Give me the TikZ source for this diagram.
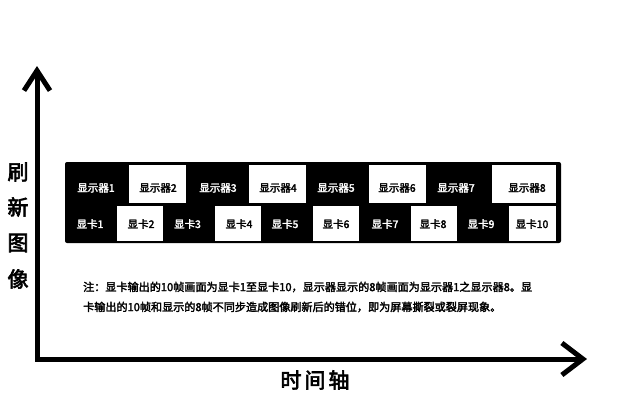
\documentclass[tikz,border=0pt]{standalone}
\usepackage{fontspec}
\newfontfamily\cjk{Noto Sans CJK SC}[FakeBold=2.4]
\newfontfamily\cjkbig{Noto Sans CJK SC}[FakeBold=3]
\usetikzlibrary{arrows.meta}
\tikzset{
  panelbox/.style={fill=black, draw=none, rounded corners=2pt},
  wbox/.style={fill=white, draw=none, inner sep=0pt},
  celltxt/.style={inner sep=0pt, font=\cjk\fontsize{10.5}{12}\selectfont},
  wtxt/.style={celltxt, text=black},
  btxt/.style={celltxt, text=white},
  axislabel/.style={inner sep=0pt, font=\cjkbig\fontsize{21}{24}\selectfont},
  notetxt/.style={inner sep=0pt, anchor=west, font=\cjk\fontsize{11.1}{13}\selectfont},
  axisline/.style={line width=5pt, line join=miter}
}
\begin{document}
\begin{tikzpicture}[x=1pt,y=-1pt]
\useasboundingbox (0,0) rectangle (640,400);
\fill[white] (0,0) rectangle (640,400);
% panel
\node[panelbox, minimum width=496pt, minimum height=81pt, inner sep=0pt] (panel) at (313,202.5) {};
% top row white boxes
\node[wbox, minimum width=57pt, minimum height=38pt] (w2) at (157.5,184) {};
\node[wbox, minimum width=57pt, minimum height=38pt] (w4) at (277.5,184) {};
\node[wbox, minimum width=57pt, minimum height=38pt] (w6) at (397.5,184) {};
\node[wbox, minimum width=64pt, minimum height=38pt] (w8) at (524,184) {};
% bottom row white boxes
\node[wbox, minimum width=46pt, minimum height=35pt] (k2) at (140,223.5) {};
\node[wbox, minimum width=46pt, minimum height=35pt] (k4) at (238,223.5) {};
\node[wbox, minimum width=46pt, minimum height=35pt] (k6) at (336,223.5) {};
\node[wbox, minimum width=46pt, minimum height=35pt] (k8) at (434,223.5) {};
\node[wbox, minimum width=47pt, minimum height=35pt] (k10) at (532.5,223.5) {};
% top row texts
\node[btxt] (m1) at (96,188) {显示器1};
\node[wtxt] (m2) at (158,188) {显示器2};
\node[btxt] (m3) at (218,188) {显示器3};
\node[wtxt] (m4) at (278,188) {显示器4};
\node[btxt] (m5) at (336,188) {显示器5};
\node[wtxt] (m6) at (397,188) {显示器6};
\node[btxt] (m7) at (456,188) {显示器7};
\node[wtxt] (m8) at (527,188) {显示器8};
% bottom row texts
\node[btxt] (c1) at (90,224) {显卡1};
\node[wtxt] (c2) at (141,224) {显卡2};
\node[btxt] (c3) at (187.5,224) {显卡3};
\node[wtxt] (c4) at (239,224) {显卡4};
\node[btxt] (c5) at (285,224) {显卡5};
\node[wtxt] (c6) at (336,224) {显卡6};
\node[btxt] (c7) at (385,224) {显卡7};
\node[wtxt] (c8) at (433,224) {显卡8};
\node[btxt] (c9) at (481,224) {显卡9};
\node[wtxt] (c10) at (532,224) {显卡10};
% note
\node[notetxt] (n1) at (83,287) {注：显卡输出的10帧画面为显卡1至显卡10，显示器显示的8帧画面为显示器1之显示器8。显};
\node[notetxt] (n2) at (83,307) {卡输出的10帧和显示的8帧不同步造成图像刷新后的错位，即为屏幕撕裂或裂屏现象。};
% axes
\coordinate (ytip) at (37,66);
\coordinate (O) at (37,359);
\coordinate (xtip) at (587,359);
\draw[axisline, {Straight Barb[length=20pt,width=26pt]}-{Straight Barb[length=21pt,width=32pt]}] (ytip) -- (O) -- (xtip);
% axis labels
\node[axislabel] (l1) at (18,172) {刷};
\node[axislabel] (l2) at (18,207) {新};
\node[axislabel] (l3) at (18,243) {图};
\node[axislabel] (l4) at (18,279) {像};
\node[axislabel] (tx) at (315,380) {时\hspace{3pt}间\hspace{3pt}轴};
\end{tikzpicture}
\end{document}
